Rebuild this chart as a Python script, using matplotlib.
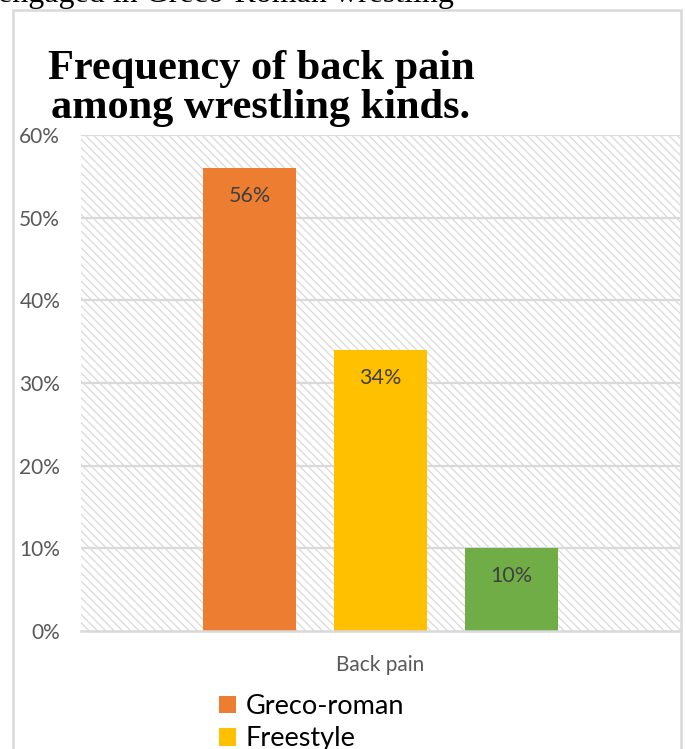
import matplotlib
matplotlib.use("Agg")
import matplotlib.pyplot as plt
from matplotlib.patches import Rectangle, Patch

# Data
category = "Back pain"
series_names = ["Greco-roman", "Freestyle", "Other"]
values = [56, 34, 10]
colors = ["#ED7D31", "#FFC000", "#70AD47"]
y_ticks = [0, 10, 20, 30, 40, 50, 60]
y_tick_labels = [f"{t}%" for t in y_ticks]

W, H = 686, 749
fig = plt.figure(figsize=(W / 100, H / 100), dpi=100)
plt.rcParams["hatch.linewidth"] = 0.9

sans = ["Lato", "DejaVu Sans"]
serif = ["Liberation Serif", "DejaVu Serif"]

# Chart border
fig.patches.append(Rectangle((13 / W, -0.05), (681 - 13) / W, 1 - 10 / H + 0.05,
                             transform=fig.transFigure, fill=False,
                             edgecolor="#d9d9d9", lw=1.8, zorder=0))

# Text of surrounding paragraph
fig.text(-2 / W, 1 - 2 / H, "engaged in Greco-Roman wrestling", family=serif,
         fontsize=23, ha="left", va="baseline", color="black")

# Title
fig.text(261 / W, 1 - 118 / H, "Frequency of back pain\namong wrestling kinds.",
         family=serif, fontweight="bold", fontsize=30.5, ha="center",
         va="baseline", multialignment="center", linespacing=1.02)

left, right, top, bottom = 81, 680, 135, 631
ax = fig.add_axes([left / W, 1 - bottom / H, (right - left) / W, (bottom - top) / H])
ax.set_xlim(0, 1)
ax.set_ylim(0, 60)

# Patterned plot area background
ax.add_patch(Rectangle((0, 0), 1, 1, transform=ax.transAxes, facecolor="white",
                       edgecolor="#d9d9d9", lw=0, hatch="\\" * 4, zorder=0))

for t in y_ticks[1:]:
    ax.axhline(t, color="#d9d9d9", lw=1.6, zorder=1)
ax.axhline(0, color="#d9d9d9", lw=1.8, zorder=3, clip_on=False)

step = 0.2187
bw = 0.1536
for i, (v, c, n) in enumerate(zip(values, colors, series_names)):
    x = 0.5 + (i - 1) * step
    ax.bar(x, v, width=bw, color=c, zorder=2, label=n)
    ax.text(x, v - 3.4, f"{v}%", ha="center", va="center", family=sans,
            fontsize=15.5, color="#404040", zorder=4)

for s in ax.spines.values():
    s.set_visible(False)
ax.set_yticks(y_ticks)
ax.set_yticklabels(y_tick_labels, family=sans, fontsize=15, color="#595959")
ax.tick_params(axis="y", length=0, pad=15)
ax.set_xticks([0.5])
ax.set_xticklabels([category], family=sans, fontsize=15, color="#595959")
ax.tick_params(axis="x", length=0, pad=17)

handles = [Patch(facecolor=c, edgecolor="none") for c in colors]
fig.legend(handles, series_names, loc="upper left",
           bbox_to_anchor=(219 / W, 1 - 694 / H), frameon=False,
           prop={"family": sans, "size": 19.5}, handlelength=0.62, handleheight=0.62,
           handletextpad=0.35, labelspacing=0.27, borderaxespad=0, borderpad=0)

fig.savefig("out.png", dpi=100)
